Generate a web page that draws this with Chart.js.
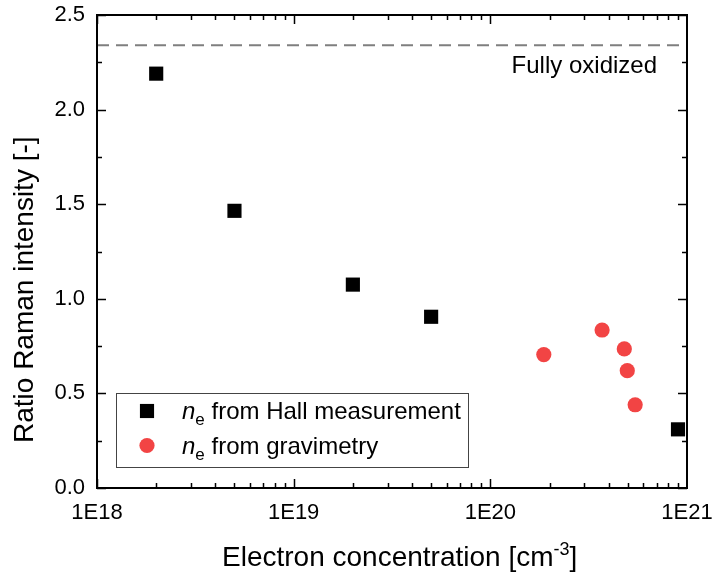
<!DOCTYPE html>
<html>
<head>
<meta charset="utf-8">
<script src="https://cdn.jsdelivr.net/npm/chart.js@4/dist/chart.umd.min.js"></script>
<style>
  html, body { margin: 0; padding: 0; background: #fff; }
  #wrap { width: 713px; height: 574px; }
</style>
</head>
<body>
<div id="wrap"><canvas id="ramanChart"></canvas></div>
<script>
// data
var hallConc = [2e18, 5e18, 2e19, 5e19, 9e20];
var hallRatio = [2.19, 1.465, 1.075, 0.905, 0.31];
var gravConc = [1.87e20, 3.7e20, 4.8e20, 4.97e20, 5.45e20];
var gravRatio = [0.705, 0.835, 0.735, 0.62, 0.44];
var fullyOxidized = 2.34;

var xTickValues = [1e18, 1e19, 1e20, 1e21];
var xTickLabels = ['1E18', '1E19', '1E20', '1E21'];
var yTickValues = [0, 0.5, 1.0, 1.5, 2.0, 2.5];
var yTickLabels = ['0.0', '0.5', '1.0', '1.5', '2.0', '2.5'];

var FONT = "'Liberation Sans', Arial, sans-serif";

function toPoints(xs, ys) {
    return xs.map(function(x, i) { return { x: x, y: ys[i] }; });
}

// === inward ticks, frame, titles, legend, annotation ===
var decorPlugin = {
    id: 'decor',
    afterDraw: function(chart) {
        var ctx = chart.ctx;
        var area = chart.chartArea;
        var xs = chart.scales.x;
        var ys = chart.scales.y;
        ctx.save();

        // frame
        ctx.strokeStyle = '#000';
        ctx.lineWidth = 2;
        ctx.strokeRect(area.left, area.top, area.right - area.left, area.bottom - area.top);

        // x ticks (bottom + top), major at decades, minor at 2..9
        ctx.lineWidth = 1.5;
        ctx.beginPath();
        for (var d = 18; d < 21; d++) {
            for (var m = 1; m <= 9; m++) {
                var px = Math.round(xs.getPixelForValue(m * Math.pow(10, d))) + 0.5;
                var len = m === 1 ? 9 : 5;
                ctx.moveTo(px, area.bottom); ctx.lineTo(px, area.bottom - len);
                ctx.moveTo(px, area.top); ctx.lineTo(px, area.top + len);
            }
        }
        ctx.stroke();

        // y ticks (left + right), major 0.5, minor 0.25
        ctx.beginPath();
        for (var v = 0; v <= 2.5001; v += 0.25) {
            var py = Math.round(ys.getPixelForValue(v)) + 0.5;
            var major = Math.abs(v * 2 - Math.round(v * 2)) < 1e-6;
            var l = major ? 9 : 5;
            ctx.moveTo(area.left, py); ctx.lineTo(area.left + l, py);
            ctx.moveTo(area.right, py); ctx.lineTo(area.right - l, py);
        }
        ctx.stroke();

        ctx.fillStyle = '#000';

        // "Fully oxidized"
        ctx.font = '24px ' + FONT;
        ctx.textAlign = 'right';
        ctx.textBaseline = 'alphabetic';
        ctx.fillText('Fully oxidized', area.right - 30, ys.getPixelForValue(fullyOxidized) + 28);

        // x title with superscript
        var titleFont = '28px ' + FONT;
        var supFont = '18px ' + FONT;
        var t1 = 'Electron concentration [cm';
        var sup = '-3';
        var t2 = ']';
        ctx.font = titleFont;
        var w1 = ctx.measureText(t1).width;
        var w2 = ctx.measureText(t2).width;
        ctx.font = supFont;
        var ws = ctx.measureText(sup).width;
        var total = w1 + ws + w2;
        var bx = 222;
        var by = 566;
        ctx.textAlign = 'left';
        ctx.font = titleFont;
        ctx.fillText(t1, bx, by);
        ctx.font = supFont;
        ctx.fillText(sup, bx + w1, by - 11);
        ctx.font = titleFont;
        ctx.fillText(t2, bx + w1 + ws, by);

        // y title
        ctx.save();
        ctx.translate(33, 443);
        ctx.rotate(-Math.PI / 2);
        ctx.textAlign = 'left';
        ctx.font = titleFont;
        ctx.fillText('Ratio Raman intensity [-]', 0, 0);
        ctx.restore();

        // legend
        var lx = 116, ly = 393, lw = 352, lh = 74;
        ctx.lineWidth = 1;
        ctx.strokeStyle = '#444';
        ctx.strokeRect(lx + 0.5, ly + 0.5, lw, lh);
        chart.data.datasets.forEach(function(ds) {
            if (!ds.legendText) return;
            var rowY = ly + 18 + ds.legendRow * 34.5;
            ctx.fillStyle = ds.pointBackgroundColor;
            ctx.beginPath();
            if (ds.pointStyle === 'rect') {
                var s = ds.pointRadius * Math.SQRT1_2;
                ctx.rect(147 - s, rowY - s, 2 * s, 2 * s);
            } else {
                ctx.arc(147, rowY, ds.pointRadius, 0, Math.PI * 2);
            }
            ctx.fill();
            ctx.fillStyle = '#000';
            ctx.textAlign = 'left';
            var base = rowY + 8;
            ctx.font = 'italic 24px ' + FONT;
            ctx.fillText('n', 182, base);
            var nw = ctx.measureText('n').width;
            ctx.font = '17px ' + FONT;
            ctx.fillText('e', 182 + nw, base + 6);
            var ew = ctx.measureText('e').width;
            ctx.font = '24px ' + FONT;
            ctx.fillText(ds.legendText, 182 + nw + ew, base);
        });

        ctx.restore();
    }
};

var ctx = document.getElementById('ramanChart').getContext('2d');
var ramanChart = new Chart(ctx, {
    type: 'scatter',
    data: {
        datasets: [{
            type: 'line',
            label: 'Fully oxidized',
            data: [{ x: xTickValues[0], y: fullyOxidized }, { x: xTickValues[3], y: fullyOxidized }],
            borderColor: '#7f7f7f',
            borderWidth: 2,
            borderDash: [12, 7],
            pointRadius: 0,
            fill: false
        }, {
            label: 'ne from Hall measurement',
            legendText: ' from Hall measurement',
            legendRow: 0,
            data: toPoints(hallConc, hallRatio),
            pointStyle: 'rect',
            pointRadius: 10,
            pointBackgroundColor: '#000000',
            backgroundColor: '#000000',
            borderWidth: 0,
            pointBorderWidth: 0
        }, {
            label: 'ne from gravimetry',
            legendText: ' from gravimetry',
            legendRow: 1,
            data: toPoints(gravConc, gravRatio),
            pointStyle: 'circle',
            pointRadius: 7.6,
            pointBackgroundColor: '#f24444',
            backgroundColor: '#f24444',
            borderWidth: 0,
            pointBorderWidth: 0
        }]
    },
    options: {
        responsive: true,
        maintainAspectRatio: false,
        animation: false,
        layout: { padding: { top: 15, right: 26, left: 0, bottom: 0 } },
        plugins: {
            legend: { display: false },
            tooltip: { enabled: false }
        },
        scales: {
            x: {
                type: 'logarithmic',
                min: 1e18,
                max: 1e21,
                grid: { display: false, drawTicks: false },
                border: { display: false },
                afterBuildTicks: function(scale) {
                    scale.ticks = xTickValues.map(function(v) { return { value: v, major: true }; });
                },
                afterFit: function(scale) {
                    scale.height = 86;
                    scale.paddingLeft = 0; scale.paddingRight = 0;
                    scale.paddingTop = 0; scale.paddingBottom = 0;
                },
                ticks: {
                    autoSkip: false,
                    maxRotation: 0,
                    padding: 12,
                    color: '#000',
                    font: { family: FONT, size: 22 },
                    callback: function(value, index) { return xTickLabels[index]; }
                }
            },
            y: {
                min: 0,
                max: 2.5,
                grid: { display: false, drawTicks: false },
                border: { display: false },
                afterBuildTicks: function(scale) {
                    scale.ticks = yTickValues.map(function(v) { return { value: v }; });
                },
                afterFit: function(scale) {
                    scale.width = 97;
                    scale.paddingLeft = 0; scale.paddingRight = 0;
                    scale.paddingTop = 0; scale.paddingBottom = 0;
                },
                ticks: {
                    padding: 12,
                    color: '#000',
                    font: { family: FONT, size: 22 },
                    callback: function(value, index) { return yTickLabels[index]; }
                }
            }
        }
    },
    plugins: [decorPlugin]
});
</script>
</body>
</html>
